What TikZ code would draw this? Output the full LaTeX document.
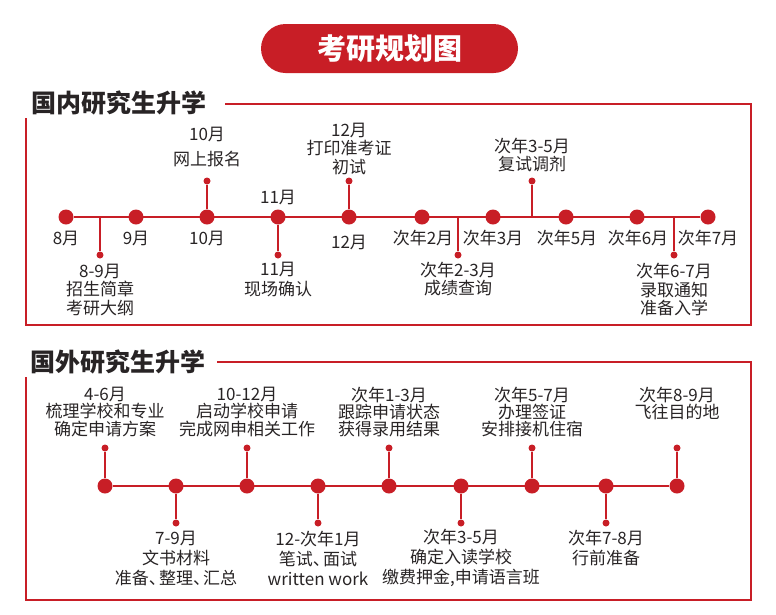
\documentclass[tikz,border=0pt]{standalone}
\usepackage{fontspec}
\setmainfont{Noto Sans CJK SC}
\definecolor{rd}{RGB}{200,30,38}
\definecolor{txt}{RGB}{40,36,37}
\newcommand\dunhao{\makebox[0.6em][l]{、}}
\begin{document}
\begin{tikzpicture}[x=1pt,y=-1pt,
  lbl/.style={font=\fontsize{17}{18.5}\selectfont, text=txt, align=center, inner sep=0pt},
  big/.style={circle, fill=rd, minimum size=15pt, inner sep=0pt},
  small/.style={circle, fill=rd, minimum size=7pt, inner sep=0pt},
  tl/.style={draw=rd, line width=2.5pt},
  br/.style={draw=rd, line width=2pt},
  frame/.style={draw=rd, line width=1.8pt},
  hdr/.style={font=\fontsize{25}{28}\selectfont\bfseries, text=txt, anchor=west, inner sep=0pt},
  pill/.style={fill=rd, rounded corners=24.5pt, minimum width=257pt, minimum height=49pt, inner sep=0pt, text=white, font=\fontsize{29}{32}\selectfont\bfseries}]
\useasboundingbox (0,0) rectangle (776,614);

% title
\node[pill] (title) at (389.5,48.5) {考研规划图};

% ---------- section 1 ----------
\node[hdr] (h1) at (31,103) {国内研究生升学};
\draw[frame] (225,104) -- (751,104) -- (751,325) -- (26,325) -- (26,118);

\foreach \x/\n in {66/a1,136/a2,207/a3,278/a4,349/a5,422/a6,493/a7,566/a8,637/a9,708/a10}
  \node[big] (\n) at (\x,217) {};
\draw[tl] (a1) -- (a10);

\node[lbl] (m1) at (66,238) {8月};
\node[lbl] (m2) at (136,238) {9月};
\node[lbl] (m3) at (207,238) {10月};
\node[lbl] (m4) at (278,197) {11月};
\node[lbl] (m5) at (349,242) {12月};
\node[lbl] (m6) at (423,238) {次年2月};
\node[lbl] (m7) at (493,238) {次年3月};
\node[lbl] (m8) at (567,238) {次年5月};
\node[lbl] (m9) at (638,238) {次年6月};
\node[lbl] (m10) at (708,238) {次年7月};

% branches
\coordinate (j1) at (100,217);
\node[small] (s1) at (100,255) {};
\draw[br] (j1) -- (s1);
\node[lbl] (t1) at (100,290) {8-9月\\招生简章\\考研大纲};

\node[small] (s3) at (207,181) {};
\draw[br] (a3) -- (s3);
\node[lbl, font=\fontsize{17}{25}\selectfont] (t3) at (207,147.5) {10月\\网上报名};

\node[small] (s4) at (278,255) {};
\draw[br] (a4) -- (s4);
\node[lbl, font=\fontsize{17}{20}\selectfont] (t4) at (278,280) {11月\\现场确认};

\node[small] (s5) at (349,181) {};
\draw[br] (a5) -- (s5);
\node[lbl] (t5) at (349,148.5) {12月\\打印准考证\\初试};

\coordinate (j6) at (458,217);
\node[small] (s6) at (458,255) {};
\draw[br] (j6) -- (s6);
\node[lbl, font=\fontsize{17}{18}\selectfont] (t6) at (458,279) {次年2-3月\\成绩查询};

\coordinate (j7) at (532,217);
\node[small] (s7) at (532,181) {};
\draw[br] (j7) -- (s7);
\node[lbl, font=\fontsize{17}{17.5}\selectfont] (t7) at (532,155) {次年3-5月\\复试调剂};

\coordinate (j9) at (674,217);
\node[small] (s9) at (674,255) {};
\draw[br] (j9) -- (s9);
\node[lbl] (t9) at (674,289.5) {次年6-7月\\录取通知\\准备入学};

% ---------- section 2 ----------
\node[hdr] (h2) at (30,362) {国外研究生升学};
\draw[frame] (217,362) -- (751,362) -- (751,600) -- (26,600) -- (26,377);

\foreach \x/\n in {105/b1,176/b2,247/b3,318/b4,389/b5,461/b6,532/b7,606/b8,677/b9}
  \node[big] (\n) at (\x,486) {};
\draw[tl] (b1) -- (b9);

\foreach \x/\n/\b in {105/u1/b1,247/u3/b3,389/u5/b5,532/u7/b7,677/u9/b9}{
  \node[small] (\n) at (\x,448) {};
  \draw[br] (\b) -- (\n);
}
\foreach \x/\n/\b in {176/d2/b2,318/d4/b4,461/d6/b6,606/d8/b8}{
  \node[small] (\n) at (\x,523) {};
  \draw[br] (\b) -- (\n);
}

\tikzset{up/.style={lbl, font=\fontsize{17}{17.3}\selectfont},
         dn/.style={lbl, font=\fontsize{17}{20}\selectfont}}
\node[up] (v1) at (105,412) {4-6月\\梳理学校和专业\\确定申请方案};
\node[up] (v3) at (247,412) {10-12月\\启动学校申请\\完成网申相关工作};
\node[up] (v5) at (389,412) {次年1-3月\\跟踪申请状态\\获得录用结果};
\node[up] (v7) at (532,412) {次年5-7月\\办理签证\\安排接机住宿};
\node[up] (v9) at (677,403.5) {次年8-9月\\飞往目的地};

\node[dn] (w2) at (176,558) {7-9月\\文书材料\\准备\dunhao 整理\dunhao 汇总};
\node[dn] (w4) at (318,558) {12-次年1月\\笔试\dunhao 面试\\written work};
\node[dn] (w6) at (461,558) {次年3-5月\\确定入读学校\\缴费押金,申请语言班};
\node[dn] (w8) at (606,548) {次年7-8月\\行前准备};
\end{tikzpicture}
\end{document}
